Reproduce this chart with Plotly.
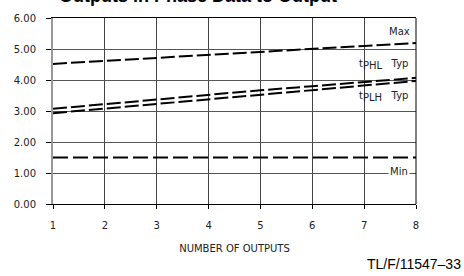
import plotly.graph_objects as go

outputs = [1, 2, 3, 4, 5, 6, 7, 8]
t_max = [4.52, 4.62, 4.72, 4.81, 4.90, 5.00, 5.10, 5.19]
t_phl_typ = [3.07, 3.22, 3.38, 3.53, 3.67, 3.80, 3.94, 4.07]
t_plh_typ = [2.93, 3.08, 3.23, 3.39, 3.53, 3.68, 3.82, 3.97]
t_min = [1.5, 1.5, 1.5, 1.5, 1.5, 1.5, 1.5, 1.5]
y_ticks = [0, 1, 2, 3, 4, 5, 6]
y_tick_labels = ["0.00", "1.00", "2.00", "3.00", "4.00", "5.00", "6.00"]

tick_font = dict(family="DejaVu Sans", size=10, color="#222")
line_style = dict(color="black", width=2, dash="14px,4px")

fig = go.Figure()
for ys in (t_max, t_phl_typ, t_plh_typ):
    fig.add_trace(go.Scatter(x=outputs, y=ys, mode="lines", line=line_style,
                             showlegend=False, hoverinfo="skip"))
fig.add_trace(go.Scatter(x=outputs, y=t_min, mode="lines",
                         line=dict(color="black", width=2, dash="15px,5px"),
                         showlegend=False, hoverinfo="skip"))

fig.update_layout(
    width=464, height=276,
    margin=dict(l=53, r=48, t=13.5, b=72),
    paper_bgcolor="white", plot_bgcolor="white",
    showlegend=False,
)
fig.update_xaxes(
    range=[1, 8], tickvals=outputs, ticktext=[str(v) for v in outputs],
    showgrid=True, gridcolor="#444", gridwidth=1,
    showline=True, mirror=True, linecolor="black", linewidth=1,
    ticks="outside", ticklen=4, tickcolor="black",
    tickfont=tick_font, ticklabelstandoff=8,
    title=dict(text="NUMBER OF OUTPUTS", font=dict(family="DejaVu Sans", size=10, color="#222"),
               standoff=14),
    zeroline=False,
)
fig.update_yaxes(
    range=[0, 6], tickvals=y_ticks, ticktext=y_tick_labels,
    showgrid=True, gridcolor="#555", gridwidth=1,
    showline=True, mirror=False, linecolor="#999", linewidth=2,
    ticks="outside", ticklen=5, tickcolor="black",
    tickfont=tick_font, ticklabelstandoff=8,
    zeroline=False,
)
fig.add_shape(type="line", xref="paper", yref="paper", x0=1, x1=1, y0=0, y1=1,
              line=dict(color="black", width=1))

lab_font = dict(family="DejaVu Sans", size=10, color="#222")
sub = '<sub><span style="font-size:10px">{}</span></sub>'
fig.add_annotation(x=8, y=5.58, xref="x", yref="y", text="Max", showarrow=False,
                   xanchor="right", xshift=-4, font=lab_font)
fig.add_annotation(x=8, y=4.5, xref="x", yref="y", text="t" + sub.format("PHL") + "   Typ",
                   showarrow=False, xanchor="right", xshift=-6, font=lab_font)
fig.add_annotation(x=8, y=3.46, xref="x", yref="y", text="t" + sub.format("PLH") + "   Typ",
                   showarrow=False, xanchor="right", xshift=-6, font=lab_font)
fig.add_annotation(x=8, y=1.0, xref="x", yref="y", text="Min", showarrow=False,
                   xanchor="right", xshift=-6, yshift=2, font=lab_font, bgcolor="white")

fig.add_annotation(x=0.40, y=1, xref="paper", yref="paper", yanchor="bottom",
                   text="<b>Outputs in Phase Data to Output</b>", showarrow=False,
                   yshift=10, font=dict(family="Liberation Sans", size=18, color="black"))
fig.add_annotation(x=1, y=0, xref="paper", yref="paper", xanchor="right", yanchor="middle",
                   text="TL/F/11547\u201333", showarrow=False, xshift=47, yshift=-60,
                   font=dict(family="Liberation Sans", size=14, color="black"))

fig.write_html("out.html", config={"displayModeBar": False},
               post_script="document.body.style.margin='0';")
